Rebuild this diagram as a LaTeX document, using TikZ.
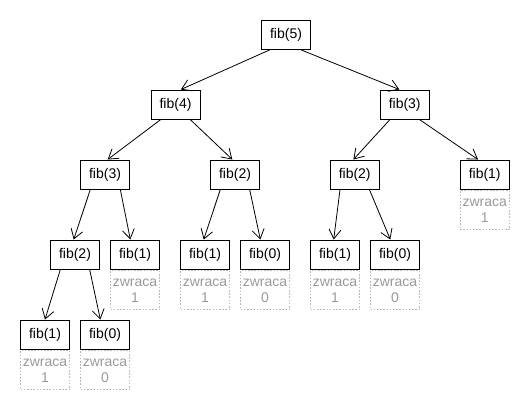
\documentclass[tikz,border=0pt]{standalone}
\usepackage{fontspec}
\setmainfont{Liberation Sans}
\usetikzlibrary{arrows.meta, positioning}
\tikzset{
  callbox/.style={draw, line width=0.7pt, font=\fontsize{10.5}{12}\selectfont,
                  minimum width=36.75pt, minimum height=21.75pt, inner sep=0pt},
  retbox/.style={draw=gray!55, dash pattern=on 1.2pt off 1.2pt, line width=0.6pt,
                 text=gray!80, align=center, font=\fontsize{10.5}{12}\selectfont,
                 minimum width=36.75pt, minimum height=29.25pt, inner sep=0pt,
                 anchor=north},
  callarrow/.style={-{Straight Barb[length=7pt, width=9pt]}, line width=0.6pt}
}
\begin{document}
\begin{tikzpicture}[x=0.75pt, y=-0.75pt]
\useasboundingbox (0,0) rectangle (530,410);

% --- Level heights ---
\def\ya{34.5}
\def\yb{104.5}
\def\yc{174.5}
\def\yd{254.5}
\def\ye{334.5}

% --- Calls ---
\node[callbox] (n5)  at (286,\ya)   {fib(5)};
\node[callbox] (n4)  at (175.5,\yb) {fib(4)};
\node[callbox] (n3)  at (404.7,\yb) {fib(3)};
\node[callbox] (n3a) at (105,\yc)   {fib(3)};
\node[callbox] (n2a) at (235,\yc)   {fib(2)};
\node[callbox] (n2b) at (354.7,\yc) {fib(2)};
\node[callbox] (n1d) at (484.7,\yc) {fib(1)};
\node[callbox] (n2c) at (75,\yd)    {fib(2)};
\node[callbox] (n1a) at (135,\yd)   {fib(1)};
\node[callbox] (n1b) at (205,\yd)   {fib(1)};
\node[callbox] (n0b) at (265,\yd)   {fib(0)};
\node[callbox] (n1c) at (335,\yd)   {fib(1)};
\node[callbox] (n0c) at (395,\yd)   {fib(0)};
\node[callbox] (n1e) at (45,\ye)    {fib(1)};
\node[callbox] (n0e) at (105,\ye)   {fib(0)};

% --- Return values under the leaves ---
\node[retbox] (r1d) at ([yshift=-0.75pt]n1d.south) {zwraca\\1};
\node[retbox] (r1a) at ([yshift=-0.75pt]n1a.south) {zwraca\\1};
\node[retbox] (r1b) at ([yshift=-0.75pt]n1b.south) {zwraca\\1};
\node[retbox] (r0b) at ([yshift=-0.75pt]n0b.south) {zwraca\\0};
\node[retbox] (r1c) at ([yshift=-0.75pt]n1c.south) {zwraca\\1};
\node[retbox] (r0c) at ([yshift=-0.75pt]n0c.south) {zwraca\\0};
\node[retbox] (r1e) at ([yshift=-0.75pt]n1e.south) {zwraca\\1};
\node[retbox] (r0e) at ([yshift=-0.75pt]n0e.south) {zwraca\\0};

% --- Recursive calls ---
\draw[callarrow] ([xshift=-11.5pt]n5.south)  -- ([xshift=4pt]n4.north);
\draw[callarrow] ([xshift=10.5pt]n5.south)   -- ([xshift=-4pt]n3.north);
\draw[callarrow] ([xshift=-11pt]n4.south)    -- ([xshift=2pt]n3a.north);
\draw[callarrow] ([xshift=11pt]n4.south)     -- ([xshift=-2pt]n2a.north);
\draw[callarrow] ([xshift=-11pt]n3.south)    -- ([xshift=-1pt]n2b.north);
\draw[callarrow] ([xshift=11pt]n3.south)     -- ([xshift=-5pt]n1d.north);
\draw[callarrow] ([xshift=-11pt]n3a.south)   -- ([xshift=-1pt]n2c.north);
\draw[callarrow] ([xshift=11.5pt]n3a.south)  -- ([xshift=-3.5pt]n1a.north);
\draw[callarrow] ([xshift=-11pt]n2a.south)   -- ([xshift=-1pt]n1b.north);
\draw[callarrow] ([xshift=11pt]n2a.south)    -- ([xshift=-3.5pt]n0b.north);
\draw[callarrow] ([xshift=-11pt]n2b.south)   -- ([xshift=-1pt]n1c.north);
\draw[callarrow] ([xshift=11pt]n2b.south)    -- ([xshift=-3.5pt]n0c.north);
\draw[callarrow] ([xshift=-11pt]n2c.south)   -- ([xshift=0pt]n1e.north);
\draw[callarrow] ([xshift=11pt]n2c.south)    -- ([xshift=-3.5pt]n0e.north);

\end{tikzpicture}
\end{document}
